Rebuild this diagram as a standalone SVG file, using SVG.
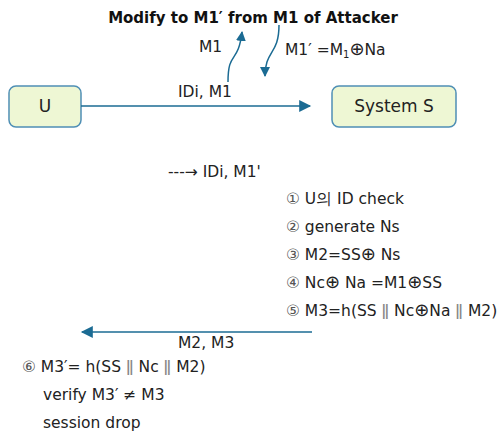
<svg xmlns="http://www.w3.org/2000/svg" width="499" height="434" viewBox="0 0 499 434">
  <defs>
    <marker id="arrow" viewBox="0 0 10 10" refX="9" refY="5" markerWidth="10" markerHeight="10" markerUnits="userSpaceOnUse" orient="auto">
      <path d="M0,0 L10,5 L0,10 z" fill="#1b6b93"/>
    </marker>
    <marker id="arrowBig" viewBox="0 0 10 10" refX="9" refY="5" markerWidth="13" markerHeight="12" markerUnits="userSpaceOnUse" orient="auto">
      <path d="M0,0 L10,5 L0,10 z" fill="#1b6b93"/>
    </marker>
  </defs>
  <style>
    .node { fill: #eef7d4; stroke: #4f8fb5; stroke-width: 1.5; }
    .t { font-family: "DejaVu Sans", Verdana, sans-serif; font-size: 15.5px; fill: #222; }
    .label { font-family: "DejaVu Sans", Verdana, sans-serif; font-size: 17px; fill: #222; }
    .title { font-family: "DejaVu Sans", Verdana, sans-serif; font-size: 15px; font-weight: bold; fill: #111; }
    .edge { fill: none; stroke: #1b6b93; stroke-width: 1.5; }
    .bar { fill: #888; }
    .num { fill: #555; }
    .xor { font-size: 18px; }
  </style>
  <rect width="499" height="434" fill="#fff"/>

  <text class="title" x="253" y="23" text-anchor="middle">Modify to M1′ from M1 of Attacker</text>

  <g id="node-u">
    <rect class="node" x="9" y="86" width="72" height="41" rx="7"/>
    <text class="label" x="45" y="112" text-anchor="middle">U</text>
  </g>
  <g id="node-system-s">
    <rect class="node" x="332" y="86" width="124" height="41" rx="7"/>
    <text class="label" x="394" y="112" text-anchor="middle">System S</text>
  </g>

  <g id="connectors">
    <path class="edge" d="M228,82 C228,50 238,65 242,32" marker-end="url(#arrow)"/>
    <path class="edge" d="M279,25 C279,55 265,50 265,76" marker-end="url(#arrow)"/>
    <path class="edge" d="M81,106 L310,106" marker-end="url(#arrowBig)"/>
    <path class="edge" d="M312,332 L82,332" marker-end="url(#arrowBig)"/>
  </g>

  <g id="labels">
    <text class="t" x="178" y="97">IDi, M1</text>
    <text class="t" x="199" y="52">M1</text>
    <text class="t" x="285" y="55">M1′ =M<tspan font-size="10" dy="3">1</tspan><tspan dy="-3" class="xor">⊕</tspan>Na</text>
    <text class="t" x="168" y="177">---→ IDi, M1'</text>
    <text class="t" x="286" y="204"><tspan class="num">①</tspan> U의 ID check</text>
    <text class="t" x="286" y="232"><tspan class="num">②</tspan> generate Ns</text>
    <text class="t" x="286" y="260"><tspan class="num">③</tspan> M2=SS<tspan class="xor">⊕</tspan> Ns</text>
    <text class="t" x="286" y="288"><tspan class="num">④</tspan> Nc<tspan class="xor">⊕</tspan> Na =M1<tspan class="xor">⊕</tspan>SS</text>
    <text class="t" x="286" y="316"><tspan class="num">⑤</tspan> M3=h(SS <tspan class="bar">ǁ</tspan> Nc<tspan class="xor">⊕</tspan>Na <tspan class="bar">ǁ</tspan> M2)</text>
    <text class="t" x="178" y="348">M2, M3</text>
    <text class="t" x="22" y="372"><tspan class="num">⑥</tspan> M3′= h(SS <tspan class="bar">ǁ</tspan> Nc <tspan class="bar">ǁ</tspan> M2)</text>
    <text class="t" x="43" y="400">verify M3′ ≠ M3</text>
    <text class="t" x="43" y="428">session drop</text>
  </g>
</svg>
